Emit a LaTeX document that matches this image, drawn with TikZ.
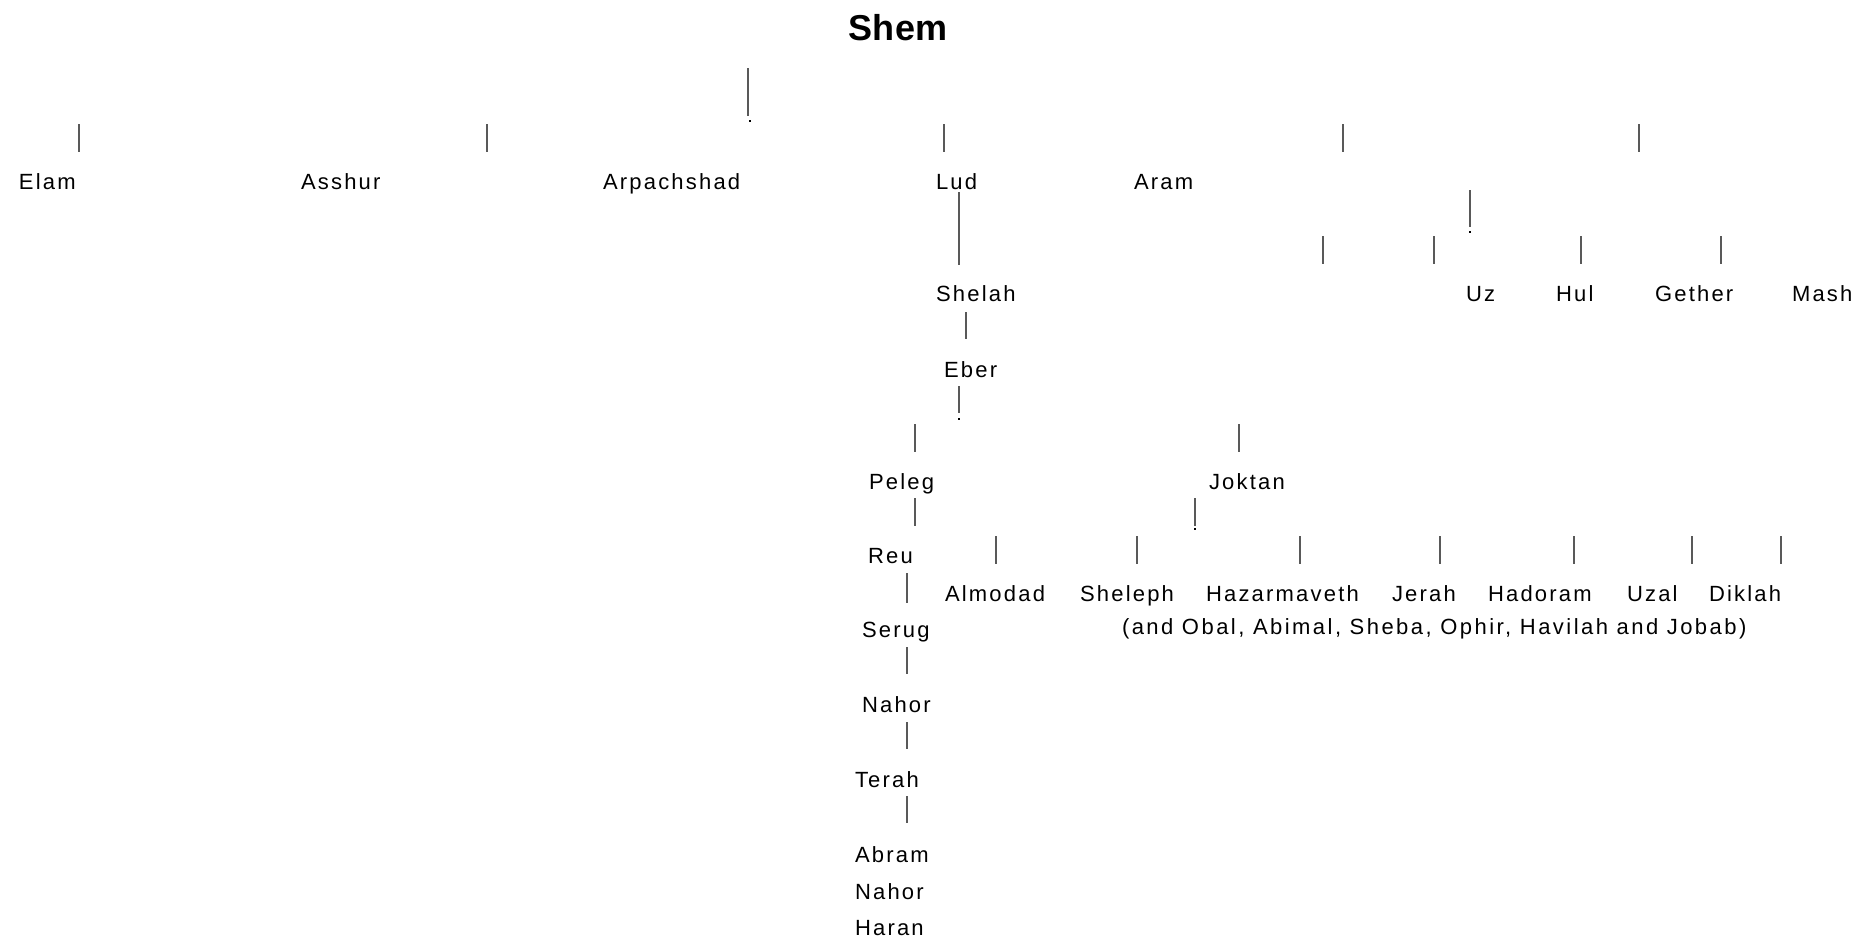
\documentclass[tikz,border=0pt]{standalone}
\usepackage{fontspec}
\newfontfamily\namefont{Liberation Sans}[LetterSpace=10]
\newfontfamily\widefont{Liberation Sans}[LetterSpace=11.2]
\newfontfamily\titlefont{Liberation Sans}[LetterSpace=1]
\begin{document}
\begin{tikzpicture}[x=1pt,y=-1pt,
  person/.style={anchor=base west,inner sep=0pt,outer sep=0pt,font=\namefont\fontsize{22}{26}\selectfont},
  widetext/.style={person,font=\widefont\fontsize{22}{26}\selectfont},
  titletext/.style={anchor=base,inner sep=0pt,outer sep=0pt,font=\titlefont\bfseries\fontsize{36}{42}\selectfont},
  link/.style={draw=black!65,line width=1.2pt},
  dotmark/.style={rectangle,fill=black,inner sep=0pt,minimum size=2.2pt}]
\useasboundingbox[fill=white] (0,0) rectangle (1860,938);

\node[titletext] (shem) at (898,40) {Shem};

% first generation
\node[person] (elam) at (19,189) {Elam};
\node[person] (asshur) at (301,189) {Asshur};
\node[person] (arpachshad) at (603,189) {Arpachshad};
\node[person] (lud) at (936,189) {Lud};
\node[person] (aram) at (1134,189) {Aram};

% second row
\node[person] (shelah) at (936,301) {Shelah};
\node[person] (uz) at (1466,301) {Uz};
\node[person] (hul) at (1556,301) {Hul};
\node[person] (gether) at (1655,301) {Gether};
\node[person] (mash) at (1792,301) {Mash};

\node[person] (eber) at (944,377) {Eber};
\node[person] (peleg) at (869,489) {Peleg};
\node[person] (joktan) at (1209,489) {Joktan};
\node[person] (reu) at (868,563) {Reu};

\node[person] (almodad) at (945,601) {Almodad};
\node[person] (sheleph) at (1080,601) {Sheleph};
\node[person] (hazarmaveth) at (1206,601) {Hazarmaveth};
\node[person] (jerah) at (1392,601) {Jerah};
\node[person] (hadoram) at (1488,601) {Hadoram};
\node[person] (uzal) at (1627,601) {Uzal};
\node[person] (diklah) at (1709,601) {Diklah};
\node[widetext] (others) at (1122,634) {(and Obal, Abimal, Sheba, Ophir, Havilah and Jobab)};

\node[person] (serug) at (862,637) {Serug};
\node[person] (nahor) at (862,712) {Nahor};
\node[person] (terah) at (855,787) {Terah};
\node[person] (abram) at (855,862) {Abram};
\node[person] (nahor2) at (855,899) {Nahor};
\node[person] (haran) at (855,935) {Haran};

% connector ticks
\foreach \n/\x/\ya/\yb in {
  tshem/748/68/116,
  ta/79/124/152, tb/487/124/152, tc/944/124/152, td/1343/124/152, te/1639/124/152,
  luda/959/192/227, ludb/959/227/265,
  taram/1470/190/227,
  tf/1323/236/264, tg/1434/236/264, th/1581/236/264, ti/1721/236/264,
  tse/966/312/339,
  teb/959/386/413,
  tj/915/424/452, tk/1239/424/452,
  tpr/915/498/526, tjk/1195/498/526,
  tl/996/536/564, tm/1137/536/564, tn/1300/536/564, to/1440/536/564,
  tp/1574/536/564, tq/1692/536/564, tr/1781/536/564,
  trs/907/573/603, tsn/907/647/674, tnt/907/722/749, tta/907/796/823}
{
  \coordinate (\n-top) at (\x,\ya);
  \coordinate (\n-bot) at (\x,\yb);
  \draw[link] (\n-top) -- (\n-bot);
}

% dots at line ends
\node[dotmark] (dshem) at (750,121) {};
\node[dotmark] (daram) at (1470,232) {};
\node[dotmark] (deber) at (959,419) {};
\node[dotmark] (djoktan) at (1195,529) {};
\end{tikzpicture}
\end{document}
